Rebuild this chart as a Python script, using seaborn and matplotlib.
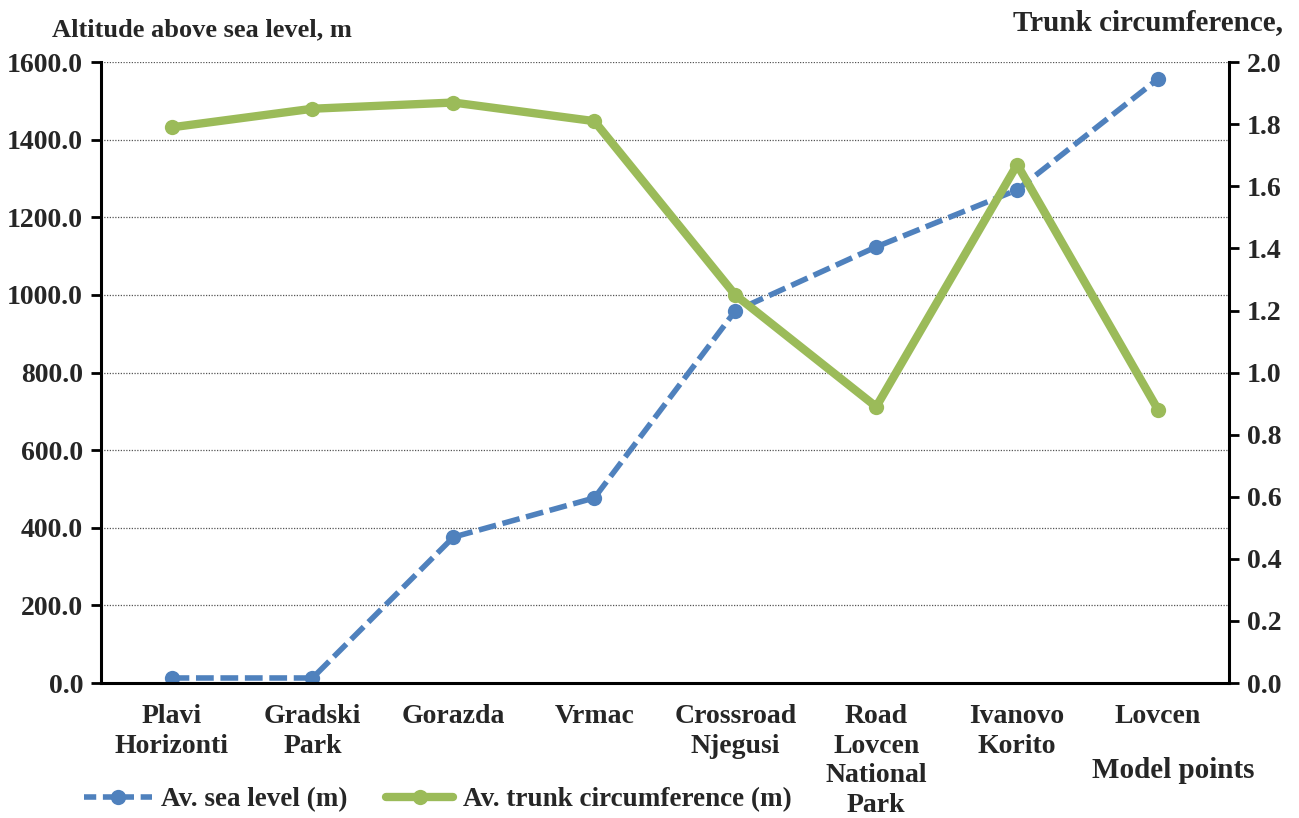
import numpy as np
import pandas as pd
import matplotlib
matplotlib.use('Agg')
import matplotlib.pyplot as plt
import seaborn as sns
from matplotlib.ticker import FormatStrFormatter
from matplotlib.lines import Line2D

points = ['Plavi\nHorizonti', 'Gradski\nPark', 'Gorazda', 'Vrmac', 'Crossroad\nNjegusi',
          'Road\nLovcen\nNational\nPark', 'Ivanovo\nKorito', 'Lovcen']
sea_level = [13, 13, 376, 477, 959, 1124, 1271, 1557]
trunk_circ = [1.79, 1.85, 1.87, 1.81, 1.25, 0.89, 1.67, 0.88]
left_ticks = [0, 200, 400, 600, 800, 1000, 1200, 1400, 1600]
right_ticks = [0.0, 0.2, 0.4, 0.6, 0.8, 1.0, 1.2, 1.4, 1.6, 1.8, 2.0]

blue = '#4F81BD'
green = '#9BBB59'

sns.set_style('white')
plt.rcParams['font.family'] = ['Liberation Serif', 'DejaVu Serif']
plt.rcParams['font.weight'] = 'bold'
plt.rcParams['font.size'] = 20

df = pd.DataFrame({'pos': np.arange(len(points)), 'sea': sea_level, 'trunk': trunk_circ})

fig = plt.figure(figsize=(12.99, 8.18), dpi=100)
ax = fig.add_axes([0.0778, 0.165, 0.868, 0.759])

sns.lineplot(data=df, x='pos', y='sea', ax=ax, color=blue, linewidth=4,
             linestyle=(0, (3.2, 1.2)), marker='o', markersize=11, markeredgewidth=0)
ax.set_ylim(0, 1600)
ax.set_yticks(left_ticks)
ax.yaxis.set_major_formatter(FormatStrFormatter('%.1f'))
ax.yaxis.grid(True, linestyle=(0, (1, 1.2)), color='#555555', linewidth=0.9)
ax.xaxis.grid(False)
ax.set_xlabel('')
ax.set_ylabel('')

ax2 = ax.twinx()
sns.lineplot(data=df, x='pos', y='trunk', ax=ax2, color=green, linewidth=6,
             marker='o', markersize=11, markeredgewidth=0)
ax2.set_ylim(0, 2.0)
ax2.set_yticks(right_ticks)
ax2.yaxis.set_major_formatter(FormatStrFormatter('%.1f'))
ax2.grid(False)
ax2.set_ylabel('')
ax2.set_xlabel('')

ax.set_xlim(-0.5, len(points) - 0.5)
ax.set_xticks(np.arange(-0.5, len(points)), labels=[])
ax.set_xticks(np.arange(len(points)), labels=points, minor=True)
ax.tick_params(axis='x', which='major', length=7, width=2, direction='out', color='black')
ax.tick_params(axis='x', which='minor', length=0, pad=15, labelsize=20)
for lab in ax.get_xticklabels(minor=True):
    lab.set_linespacing(1.25)
ax.tick_params(axis='y', length=7, width=2, direction='out', color='black', labelsize=20, pad=6)
ax2.tick_params(axis='y', length=7, width=2, direction='out', color='black', labelsize=20, pad=6)

for a in (ax, ax2):
    a.spines['top'].set_visible(False)
    for s in ('left', 'right', 'bottom'):
        a.spines[s].set_color('black')
        a.spines[s].set_linewidth(2.2)
ax.spines['right'].set_visible(False)
ax2.spines['left'].set_visible(False)
ax2.spines['bottom'].set_visible(False)

fig.text(0.040, 0.963, 'Altitude above sea level, m', fontsize=19, fontweight='bold', va='center', ha='left')
fig.text(0.988, 0.972, 'Trunk circumference,', fontsize=21, fontweight='bold', va='center', ha='right')
fig.text(0.966, 0.058, 'Model points', fontsize=21, fontweight='bold', va='center', ha='right')

handles = [Line2D([], [], color=blue, linewidth=4, linestyle=(0, (2.2, 1.2)), marker='o', markersize=11,
                  markeredgewidth=0),
           Line2D([], [], color=green, linewidth=6, marker='o', markersize=11, markeredgewidth=0)]
fig.legend(handles, ['Av. sea level (m)', 'Av. trunk circumference (m)'], loc='center left',
           bbox_to_anchor=(0.046, 0.022), ncol=2, frameon=False, handlelength=2.5,
           columnspacing=1.4, handletextpad=0.35, fontsize=19.5)

fig.savefig('out.png', dpi=100)
